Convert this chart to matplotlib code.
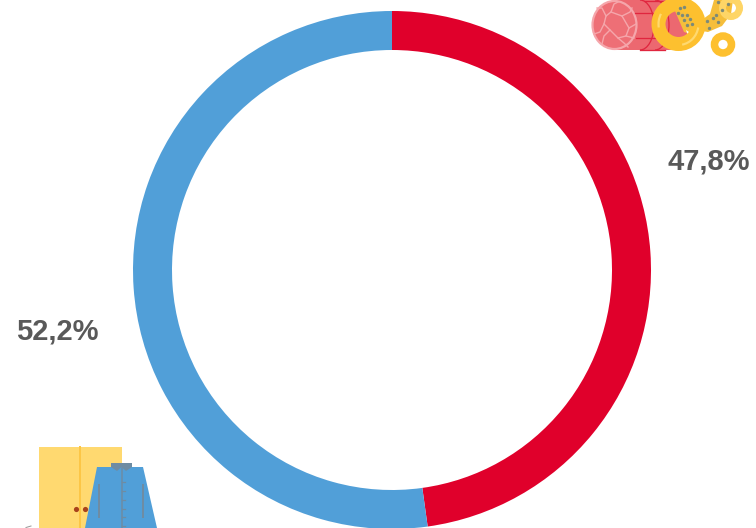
import matplotlib
matplotlib.use("Agg")
import matplotlib.pyplot as plt
from matplotlib.patches import Arc, Circle, Ellipse, Rectangle, Polygon

shares = [47.8, 52.2]
share_labels = ["47,8%", "52,2%"]
colors = ["#E0002B", "#519FD8"]

plt.rcParams['font.family'] = ['Liberation Sans', 'DejaVu Sans']
fig = plt.figure(figsize=(7.56, 5.28), dpi=100)
ax = fig.add_axes([0, 0, 1, 1])
ax.pie(shares, colors=colors, startangle=90, counterclock=False, center=(392, 258),
       radius=259, wedgeprops=dict(width=39, linewidth=0))
ax.set_xlim(0, 756)
ax.set_ylim(0, 528)
ax.set_aspect('equal')
ax.axis('off')

def Y(y):
    return 528 - y

PX = 0.72

ax.text(709, Y(162), share_labels[0], fontsize=21, fontweight='bold', color='#595959', ha='center', va='center')
ax.text(57, Y(332), share_labels[1], fontsize=21, fontweight='bold', color='#595959', ha='center', va='center')

# meat icon
RED = '#EC6870'
LINE = '#E0263F'
PALE = '#F5A6AB'
ax.add_patch(Rectangle((614, Y(50)), 68, 50, color=RED, lw=0))
ax.add_patch(Ellipse((684, Y(25)), 16, 50, color=RED, lw=0))
ax.plot([635, 665], [Y(13), Y(13)], color=LINE, lw=1.3 * PX)
ax.plot([636, 665], [Y(38), Y(38)], color=LINE, lw=1.3 * PX)
ax.plot([645, 665], [Y(0.7), Y(0.7)], color=LINE, lw=1.3 * PX)
ax.plot([640, 665], [Y(49.5), Y(49.5)], color=LINE, lw=1.3 * PX)
ax.add_patch(Arc((640, Y(25)), 28, 50, theta1=-90, theta2=90, ec=LINE, lw=1.3 * PX))
ax.add_patch(Arc((655, Y(25)), 28, 50, theta1=-90, theta2=90, ec=LINE, lw=1.3 * PX))
ax.add_patch(Ellipse((614.5, Y(25)), 44, 48, fc='#EE6F76', ec=PALE, lw=2.2 * PX))
ax.add_patch(Polygon([(606, Y(16)), (611, Y(12)), (622, Y(16)), (629, Y(28)), (626, Y(36)),
                      (618, Y(38)), (610, Y(30)), (604, Y(24))], closed=True, fill=False, ec=PALE, lw=1.4 * PX))
for xs, ys in (([606, 602, 597], [16, 8, 8]), ([611, 614, 618], [12, 4, 2]),
               ([622, 630, 632], [16, 12, 8]), ([629, 636], [28, 24]),
               ([604, 600, 594], [24, 32, 34]), ([618, 624, 628], [38, 43, 47]),
               ([610, 604, 602], [30, 36, 44]), ([626, 634], [36, 38])):
    ax.plot(xs, [Y(v) for v in ys], color=PALE, lw=1.4 * PX)

# pasta
YEL = '#FDC02F'
ax.add_patch(Polygon([(672, Y(4)), (686, Y(4)), (698, Y(18)), (698, Y(36)), (684, Y(32))], closed=True,
                     fc='#F5BE3B', lw=0, zorder=3))
ax.add_patch(Polygon([(686, Y(30)), (695, Y(36)), (688, Y(36))], closed=True, fc='white', lw=0, zorder=3))
ax.add_patch(Polygon([(689, Y(8)), (693, Y(11)), (695, Y(17)), (692, Y(14))], closed=True, fc='#A9D6E5', lw=0, zorder=3))
ax.add_patch(Polygon([(714, Y(0)), (733, Y(0)), (731, Y(14)), (722, Y(26)), (708, Y(32)), (702, Y(31)),
                      (703, Y(19)), (710, Y(14))], closed=True, fc='#F5BE3B', lw=0, zorder=3))
ax.add_patch(Circle((678.5, Y(24)), 20, fill=False, ec=YEL, lw=14 * PX, zorder=4))
ax.add_patch(Arc((678.5, Y(24)), 40, 42, theta1=-80, theta2=-10, ec='#FFD970', lw=2.2 * PX, zorder=5))
ax.add_patch(Arc((678.5, Y(24)), 40, 42, theta1=150, theta2=190, ec='#FFD970', lw=2.2 * PX, zorder=5))
ax.add_patch(Circle((731, Y(8)), 8.5, fill=False, ec='#FED566', lw=7 * PX, zorder=4))
ax.add_patch(Circle((723, Y(44.5)), 8.5, fill=False, ec=YEL, lw=7.5 * PX, zorder=4))
dots_x = [680, 684, 678, 682, 687, 684, 690, 692, 687, 707, 713, 718, 709, 716, 722, 728, 718]
dots_y = [8, 7, 13, 15, 15, 20, 19, 24, 25, 21, 18, 22, 28, 15, 10, 4, 2]
ax.scatter(dots_x, [Y(v) for v in dots_y], s=6, color='#7C8A78', lw=0, zorder=5)

# wardrobe
ax.add_patch(Rectangle((38.5, 0), 83.5, Y(446.5), color='#FFD970', lw=0))
ax.plot([80, 80], [0, Y(446.5)], color='#FCC646', lw=2 * PX)
ax.scatter([76, 84.5], [Y(509), Y(509)], s=14, color='#A8421B', lw=0, zorder=3)

# shirt
GREY = '#6E8CA3'
ax.add_patch(Polygon([(97, Y(467)), (143, Y(467)), (157, 0), (85, 0)], closed=True, fc='#519FD8', lw=0, zorder=4))
ax.add_patch(Polygon([(111, Y(463)), (132, Y(463)), (132, Y(467)), (126, Y(471)), (121.5, Y(467)), (117, Y(471)),
                      (111, Y(467))], closed=True, fc=GREY, lw=0, zorder=5))
ax.plot([121.5, 121.5], [0, Y(468)], color=GREY, lw=1.5 * PX, zorder=5)
ax.plot([98.5, 98.5], [Y(517), Y(485)], color=GREY, lw=2 * PX, zorder=5)
ax.plot([143, 143], [Y(517), Y(485)], color=GREY, lw=2 * PX, zorder=5)
for yy in (482, 491, 500, 509, 517, 526):
    ax.plot([122, 125], [Y(yy), Y(yy)], color=GREY, lw=1.3 * PX, zorder=5)
ax.plot([26, 31], [Y(527.5), Y(526)], color='#999999', lw=1 * PX)

fig.savefig("out.png", dpi=100)
